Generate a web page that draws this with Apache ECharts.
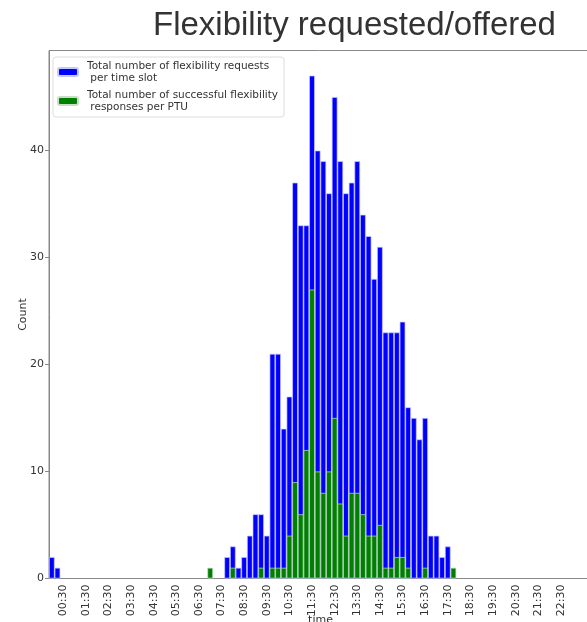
<!DOCTYPE html>
<html>
<head>
    <meta charset='utf-8'/>
    <title>Flexibility requested/offered</title>
    <style>
        body {
            margin: 0;
            padding: 0;
            background: #fff;
        }

        #chart {
            width: 587px;
            height: 622px;
        }
    </style>
</head>
<body>
<div id='chart'></div>
<script src="https://cdn.jsdelivr.net/npm/echarts@6/dist/echarts.min.js"></script>
<script type="text/javascript">
    // 15 minute slots over one day, labels like 00:00, 00:15 ...
    var slots = [];
    for (var h = 0; h < 24; h++) {
        for (var m = 0; m < 60; m += 15) {
            slots.push((h < 10 ? '0' : '') + h + ':' + (m < 10 ? '0' : '') + m);
        }
    }

    var requestName = 'Total number of flexibility requests\n per time slot';
    var responseName = 'Total number of successful flexibility\n responses per PTU';

    var requests = [
        2, 1, 0, 0, 0, 0, 0, 0, 0, 0,
        0, 0, 0, 0, 0, 0, 0, 0, 0, 0,
        0, 0, 0, 0, 0, 0, 0, 0, 0, 0,
        0, 2, 3, 1, 2, 4, 6, 6, 4, 21,
        21, 14, 17, 37, 33, 33, 47, 40, 39, 36,
        45, 39, 36, 37, 39, 34, 32, 28, 31, 23,
        23, 23, 24, 16, 15, 13, 15, 4, 4, 2,
        3, 0, 0, 0, 0, 0, 0, 0, 0, 0,
        0, 0, 0, 0, 0, 0, 0, 0, 0, 0,
        0, 0, 0, 0, 0, 0
    ];
    var responses = [
        0, 0, 0, 0, 0, 0, 0, 0, 0, 0,
        0, 0, 0, 0, 0, 0, 0, 0, 0, 0,
        0, 0, 0, 0, 0, 0, 0, 0, 1, 0,
        0, 0, 1, 0, 0, 0, 0, 1, 0, 1,
        1, 1, 4, 9, 6, 12, 27, 10, 8, 10,
        15, 7, 4, 8, 8, 6, 4, 4, 5, 1,
        1, 2, 2, 1, 0, 0, 1, 0, 0, 0,
        0, 1, 0, 0, 0, 0, 0, 0, 0, 0,
        0, 0, 0, 0, 0, 0, 0, 0, 0, 0,
        0, 0, 0, 0, 0, 0
    ];

    var font = 'DejaVu Sans';
    var chart = echarts.init(document.getElementById('chart'), null, {renderer: 'canvas'});

    var option = {
        backgroundColor: '#fff',
        animation: false,
        title: {
            text: 'Flexibility requested/offered',
            left: 148,
            top: 4,
            textStyle: {
                fontFamily: 'Liberation Sans',
                fontWeight: 'normal',
                fontSize: 33,
                color: '#333'
            }
        },
        legend: {
            orient: 'vertical',
            left: 53,
            top: 57,
            itemWidth: 20,
            itemHeight: 8,
            itemGap: 5,
            padding: [3, 6, 4, 4],
            borderColor: '#ddd',
            borderWidth: 1,
            borderRadius: 3,
            textStyle: {
                fontFamily: font,
                fontSize: 10.5,
                color: '#333',
                lineHeight: 12,
                padding: [0, 0, 0, 4]
            },
            data: [requestName, responseName]
        },
        grid: {
            left: 49,
            top: 50.5,
            width: 543,
            height: 528,
            outerBoundsMode: 'none',
            containLabel: false,
            show: true,
            borderColor: '#888',
            borderWidth: 1
        },
        xAxis: {
            type: 'category',
            data: slots,
            name: 'time',
            nameLocation: 'middle',
            nameGap: 36,
            nameMoveOverlap: false,
            nameTextStyle: {fontFamily: font, fontSize: 11, color: '#333', verticalAlign: 'top'},
            axisLine: {lineStyle: {color: '#888'}},
            axisTick: {
                length: 4,
                lineStyle: {color: '#888'},
                interval: function (i) { return i % 2 === 0; }
            },
            axisLabel: {
                rotate: 90,
                margin: 6,
                fontFamily: font,
                fontSize: 11,
                color: '#333',
                interval: function (i) { return i % 4 === 2 && i < 94; }
            }
        },
        yAxis: {
            type: 'value',
            min: 0,
            max: 49.35,
            interval: 10,
            name: 'Count',
            nameLocation: 'middle',
            nameGap: 20,
            nameMoveOverlap: false,
            nameTextStyle: {fontFamily: font, fontSize: 11, color: '#333'},
            splitLine: {show: false},
            axisLine: {show: true, lineStyle: {color: '#888'}},
            axisTick: {show: true, length: 4, lineStyle: {color: '#888'}},
            axisLabel: {
                showMaxLabel: false,
                margin: 5,
                fontFamily: font,
                fontSize: 11,
                color: '#333'
            }
        },
        series: [
            {
                name: requestName,
                type: 'bar',
                barCategoryGap: 0,
                barGap: '-100%',
                itemStyle: {color: '#0000ff', borderColor: '#c8c8ff', borderWidth: 0.7},
                data: requests.map(function (v) { return v || '-'; })
            },
            {
                name: responseName,
                type: 'bar',
                barCategoryGap: 0,
                barGap: '-100%',
                itemStyle: {color: '#008000', borderColor: '#c8dcc8', borderWidth: 0.7},
                data: responses.map(function (v) { return v || '-'; })
            }
        ]
    };
    chart.setOption(option);
</script>
</body>
</html>
